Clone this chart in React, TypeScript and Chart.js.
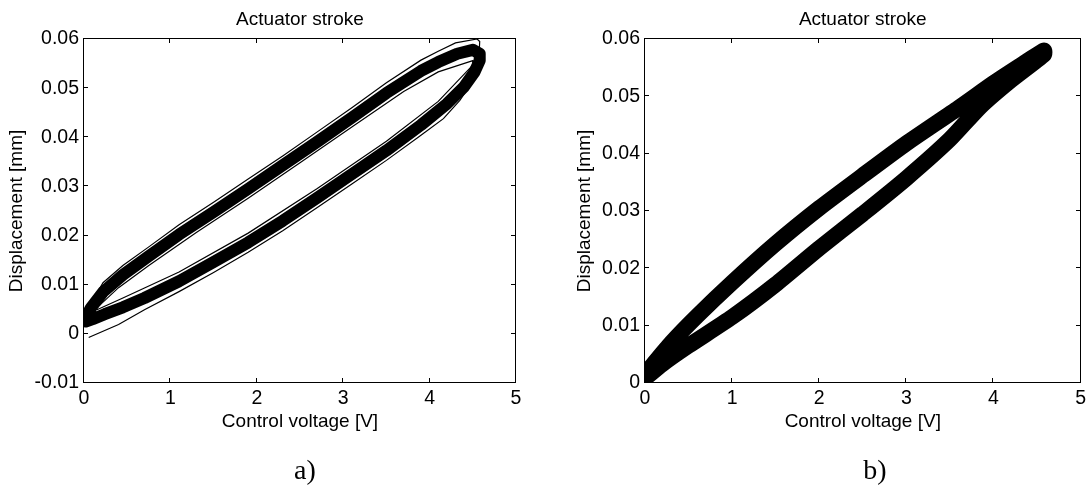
import React, { useEffect, useRef } from 'react';
import { Chart, registerables } from 'chart.js';

Chart.register(...registerables);

// ---------------- axis ticks ----------------
const xTickValues = [0, 1, 2, 3, 4, 5];
const xTickLabels = ['0', '1', '2', '3', '4', '5'];
const yTickValuesA = [-0.01, 0, 0.01, 0.02, 0.03, 0.04, 0.05, 0.06];
const yTickLabelsA = ['-0.01', '0', '0.01', '0.02', '0.03', '0.04', '0.05', '0.06'];
const yTickValuesB = [0, 0.01, 0.02, 0.03, 0.04, 0.05, 0.06];
const yTickLabelsB = ['0', '0.01', '0.02', '0.03', '0.04', '0.05', '0.06'];

// ---------------- plot a) ----------------
// thick band of repeated cycles: ascending (lower) branch then descending (upper) branch
const aBandLowerX = [0.02, 0.10, 0.24, 0.45, 0.70, 1.10, 1.50, 1.90, 2.30, 2.70, 3.10, 3.50, 3.90, 4.20, 4.40, 4.52, 4.58];
const aBandLowerY = [0.0025, 0.0030, 0.0040, 0.0054, 0.0073, 0.0107, 0.0146, 0.0186, 0.0230, 0.0277, 0.0325, 0.0373, 0.0425, 0.0468, 0.0503, 0.0533, 0.0556];
const aBandUpperX = [4.58, 4.50, 4.32, 4.10, 3.90, 3.50, 3.10, 2.70, 2.30, 1.90, 1.50, 1.10, 0.75, 0.45, 0.22, 0.08, 0.02];
const aBandUpperY = [0.0570, 0.0578, 0.0570, 0.0553, 0.0535, 0.0490, 0.0440, 0.0391, 0.0343, 0.0295, 0.0248, 0.0202, 0.0158, 0.0120, 0.0085, 0.0053, 0.0033];
// outlying single cycle outside the band
const aOuterLowerX = [0.06, 0.40, 0.70, 1.10, 1.50, 1.90, 2.30, 2.70, 3.10, 3.50, 3.90, 4.16, 4.35, 4.50, 4.57, 4.58];
const aOuterLowerY = [-0.0007, 0.0019, 0.0049, 0.0086, 0.0125, 0.0166, 0.0210, 0.0257, 0.0305, 0.0353, 0.0404, 0.0438, 0.0475, 0.0514, 0.0560, 0.0595];
const aOuterUpperX = [4.55, 4.30, 4.10, 3.90, 3.50, 3.10, 2.70, 2.30, 1.90, 1.50, 1.10, 0.75, 0.45, 0.22, 0.03];
const aOuterUpperY = [0.0600, 0.0592, 0.0575, 0.0557, 0.0511, 0.0460, 0.0411, 0.0362, 0.0315, 0.0268, 0.0222, 0.0177, 0.0139, 0.0104, 0.0046];
// outlying single cycle inside the loop
const aInnerLowerX = [0.15, 0.45, 1.10, 1.90, 2.70, 3.50, 4.10, 4.50];
const aInnerLowerY = [0.0049, 0.0073, 0.0126, 0.0205, 0.0296, 0.0392, 0.0473, 0.0547];
const aInnerUpperX = [4.50, 4.10, 3.70, 3.10, 2.50, 1.90, 1.30, 0.75, 0.40, 0.18];
const aInnerUpperY = [0.0556, 0.0533, 0.0493, 0.0421, 0.0348, 0.0276, 0.0206, 0.0139, 0.0094, 0.0058];

// ---------------- plot b) ----------------
const bLowerX = [0.00, 0.20, 0.50, 1.00, 1.50, 2.00, 2.50, 3.00, 3.50, 3.85, 4.20, 4.58];
const bLowerY = [0.0008, 0.0033, 0.0065, 0.0115, 0.0172, 0.0235, 0.0295, 0.0357, 0.0425, 0.0482, 0.0528, 0.0573];
const bUpperX = [4.58, 4.30, 4.00, 3.60, 3.00, 2.50, 2.00, 1.50, 1.00, 0.60, 0.30, 0.10, 0.00];
const bUpperY = [0.0580, 0.0553, 0.0523, 0.0480, 0.0418, 0.0362, 0.0305, 0.0243, 0.0175, 0.0117, 0.0070, 0.0034, 0.0015];

const FONT = "'Liberation Sans', Arial, Helvetica, sans-serif";
const SERIF = "'Liberation Serif', 'Times New Roman', Times, serif";

const pts = (xs: number[], ys: number[]) => xs.map((x, i) => ({ x, y: ys[i] }));

const matlabAxes = {
  id: 'matlabAxes',
  afterDatasetsDraw(chart: any) {
    const { ctx, chartArea, scales } = chart;
    const { left, right, top, bottom } = chartArea;
    const xs = scales.x;
    const ys = scales.y;
    const L = Math.round(left) - 0.5;
    const R = Math.round(right) - 0.5;
    const T = Math.round(top) - 0.5;
    const B = Math.round(bottom) - 0.5;
    const len = 4.5;
    ctx.save();
    ctx.strokeStyle = '#000';
    ctx.lineWidth = 1;
    ctx.beginPath();
    xs.ticks.forEach((t: any) => {
      const p = Math.round(xs.getPixelForValue(t.value)) - 0.5;
      ctx.moveTo(p, B);
      ctx.lineTo(p, B - len);
      ctx.moveTo(p, T);
      ctx.lineTo(p, T + len);
    });
    ys.ticks.forEach((t: any) => {
      const p = Math.round(ys.getPixelForValue(t.value)) - 0.5;
      ctx.moveTo(L, p);
      ctx.lineTo(L + len, p);
      ctx.moveTo(R, p);
      ctx.lineTo(R - len, p);
    });
    ctx.stroke();
    ctx.strokeRect(L, T, R - L, B - T);
    ctx.restore();
  },
};

function buildConfig(o: {
  datasets: any[];
  yMin: number;
  yMax: number;
  yTicks: number[];
  yLabels: string[];
  padLeft: number;
  padRight: number;
  yAxisWidth: number;
  yTitlePad: number;
}): any {
  const tickFont = { family: FONT, size: 19.5 };
  const labelFont = { family: FONT, size: 19 };
  return {
    type: 'scatter',
    data: { datasets: o.datasets },
    plugins: [matlabAxes],
    options: {
      animation: false,
      responsive: false,
      devicePixelRatio: 1,
      events: [],
      layout: { padding: { left: o.padLeft, right: o.padRight, top: 0, bottom: 55 } },
      plugins: {
        legend: { display: false },
        tooltip: { enabled: false },
        title: {
          display: true,
          text: 'Actuator stroke',
          fullSize: false,
          color: '#000',
          font: { family: FONT, size: 19, weight: 'normal' },
          padding: { top: 8, bottom: 8.2 },
        },
      },
      scales: {
        x: {
          type: 'linear',
          min: 0,
          max: 5,
          grid: { display: false, drawTicks: false },
          border: { display: false },
          afterBuildTicks: (s: any) => {
            s.ticks = xTickValues.map((v) => ({ value: v }));
          },
          afterFit: (s: any) => {
            s.height = 50;
          },
          ticks: {
            color: '#000',
            font: tickFont,
            padding: 4,
            maxRotation: 0,
            autoSkip: false,
            callback: (_v: any, i: number) => xTickLabels[i],
          },
          title: {
            display: true,
            text: 'Control voltage [V]',
            color: '#000',
            font: labelFont,
            padding: { top: 0, bottom: 0 },
          },
        },
        y: {
          type: 'linear',
          min: o.yMin,
          max: o.yMax,
          grid: { display: false, drawTicks: false },
          border: { display: false },
          afterBuildTicks: (s: any) => {
            s.ticks = o.yTicks.map((v) => ({ value: v }));
          },
          afterFit: (s: any) => {
            s.width = o.yAxisWidth;
          },
          ticks: {
            color: '#000',
            font: tickFont,
            padding: 5,
            autoSkip: false,
            callback: (_v: any, i: number) => o.yLabels[i],
          },
          title: {
            display: true,
            text: 'Displacement [mm]',
            color: '#000',
            font: labelFont,
            padding: { top: o.yTitlePad, bottom: 0 },
          },
        },
      },
    },
  };
}

const lineDs = (data: any[], width: number, join: string, tension = 0) => ({
  data,
  showLine: true,
  borderColor: '#000',
  backgroundColor: '#000',
  borderWidth: width,
  pointRadius: 0,
  borderJoinStyle: join,
  borderCapStyle: 'round',
  tension,
  clip: 0,
});

export default function App() {
  const leftRef = useRef<HTMLCanvasElement | null>(null);
  const rightRef = useRef<HTMLCanvasElement | null>(null);

  useEffect(() => {
    const aBand = [...pts(aBandLowerX, aBandLowerY), ...pts(aBandUpperX, aBandUpperY)];
    const aOuter = [...pts(aOuterLowerX, aOuterLowerY), ...pts(aOuterUpperX, aOuterUpperY)];
    const aInner = [...pts(aInnerLowerX, aInnerLowerY), ...pts(aInnerUpperX, aInnerUpperY)];
    const bBand = [...pts(bLowerX, bLowerY), ...pts(bUpperX, bUpperY)];

    const left = new Chart(
      leftRef.current as HTMLCanvasElement,
      buildConfig({
        datasets: [lineDs(aBand, 12, 'round'), lineDs(aOuter, 1.2, 'miter'), lineDs(aInner, 1.2, 'miter')],
        yMin: -0.01,
        yMax: 0.06,
        yTicks: yTickValuesA,
        yLabels: yTickLabelsA,
        padLeft: 0,
        padRight: 29,
        yAxisWidth: 84,
        yTitlePad: 5.6,
      })
    );
    const right = new Chart(
      rightRef.current as HTMLCanvasElement,
      buildConfig({
        datasets: [lineDs(bBand, 16, 'bevel', 0.2)],
        yMin: 0,
        yMax: 0.06,
        yTicks: yTickValuesB,
        yLabels: yTickLabelsB,
        padLeft: 23,
        padRight: 7,
        yAxisWidth: 77,
        yTitlePad: 5.6,
      })
    );
    return () => {
      left.destroy();
      right.destroy();
    };
  }, []);

  const capStyle: React.CSSProperties = {
    position: 'absolute',
    top: 456,
    width: 80,
    textAlign: 'center',
    fontFamily: SERIF,
    fontSize: 28,
    lineHeight: '28px',
    color: '#000',
  };

  return (
    <div
      style={{
        position: 'fixed',
        left: 0,
        top: 0,
        width: 1090,
        height: 488,
        background: '#fff',
        overflow: 'hidden',
      }}
    >
      <canvas ref={leftRef} width={545} height={488} style={{ position: 'absolute', left: 0, top: 0 }} />
      <canvas ref={rightRef} width={545} height={488} style={{ position: 'absolute', left: 545, top: 0 }} />
      <div style={{ ...capStyle, left: 305 - 40 }}>a)</div>
      <div style={{ ...capStyle, left: 875 - 40 }}>b)</div>
    </div>
  );
}
